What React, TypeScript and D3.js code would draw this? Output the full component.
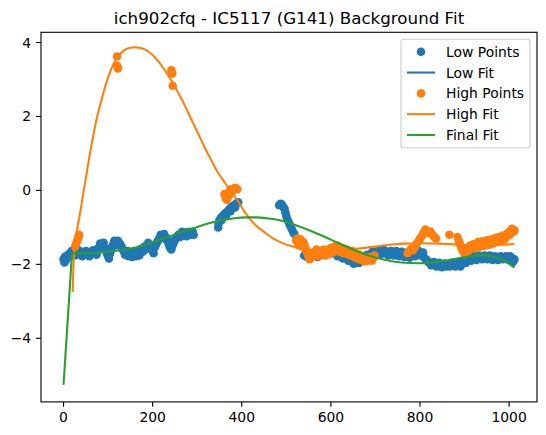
import React from 'react';
import * as d3 from 'd3';

const W = 546;
const H = 435;
const box = { left: 41, right: 537, top: 32.3, bottom: 401.9 };

const xTicks = [0, 200, 400, 600, 800, 1000];
const yTicks = [-4, -2, 0, 2, 4];
const title = 'ich902cfq - IC5117 (G141) Background Fit';

// low points
const lowPoints: [number, number][] = [
  [0, -1.86], [3, -1.8], [6, -1.88], [9, -1.76], [12, -1.72], [16, -1.7], [20, -1.74], [24, -1.68],
  [28, -1.72], [32, -1.66], [36, -1.7], [40, -1.73], [44, -1.69], [48, -1.72], [52, -1.66], [56, -1.7],
  [60, -1.74], [64, -1.68], [68, -1.66], [72, -1.7], [76, -1.62], [80, -1.55], [84, -1.5], [88, -1.48],
  [92, -1.55], [96, -1.66], [100, -1.78], [104, -1.72], [108, -1.55], [112, -1.46], [116, -1.42], [120, -1.44],
  [124, -1.4], [128, -1.48], [132, -1.58], [136, -1.66], [140, -1.7], [144, -1.64], [148, -1.72], [152, -1.76],
  [156, -1.7], [160, -1.74], [164, -1.68], [168, -1.72], [172, -1.65], [176, -1.6], [180, -1.62], [184, -1.55],
  [188, -1.47], [192, -1.5], [196, -1.58], [200, -1.64], [204, -1.55], [208, -1.45], [212, -1.36], [216, -1.3],
  [220, -1.24], [224, -1.22], [228, -1.26], [232, -1.3], [236, -1.44], [240, -1.56], [244, -1.5], [248, -1.38],
  [252, -1.3], [256, -1.25], [260, -1.22], [264, -1.18], [268, -1.15], [272, -1.2], [276, -1.24], [280, -1.18],
  [284, -1.14], [288, -1.17], [292, -1.2],
  [2, -1.95], [5, -1.78], [14, -1.78], [18, -1.64], [26, -1.76], [34, -1.62], [42, -1.78], [50, -1.64],
  [58, -1.78], [66, -1.62], [74, -1.74], [78, -1.56], [82, -1.44], [86, -1.56], [90, -1.42], [98, -1.72],
  [102, -1.84], [106, -1.64], [110, -1.5], [114, -1.36], [118, -1.48], [122, -1.36], [126, -1.44], [130, -1.52],
  [134, -1.62], [138, -1.74], [142, -1.66], [146, -1.78], [150, -1.68], [154, -1.8], [158, -1.64], [162, -1.78],
  [166, -1.64], [170, -1.76], [174, -1.58], [178, -1.66], [182, -1.52], [186, -1.58], [190, -1.42], [194, -1.56],
  [198, -1.52], [202, -1.7], [206, -1.5], [210, -1.4], [214, -1.32], [218, -1.2], [222, -1.28], [226, -1.18],
  [230, -1.32], [234, -1.36], [238, -1.52], [242, -1.6], [246, -1.44], [250, -1.34], [254, -1.26], [258, -1.2],
  [262, -1.26], [266, -1.12], [270, -1.22], [274, -1.14], [278, -1.22], [282, -1.12], [286, -1.2], [290, -1.12],
  [347, -1.0], [348, -0.9], [350, -0.8], [353, -0.74], [357, -0.7], [361, -0.64], [365, -0.6], [369, -0.55],
  [373, -0.5], [377, -0.45], [381, -0.42], [385, -0.38], [389, -0.34], [392, -0.32], [355, -0.8], [365, -0.68],
  [375, -0.56], [385, -0.46],
  [484, -0.4], [487, -0.36], [490, -0.38], [493, -0.44], [496, -0.5], [498, -0.6], [500, -0.7], [503, -0.8],
  [506, -0.88], [509, -0.96], [512, -1.04], [515, -1.12], [518, -1.18],
  [540, -1.76], [546, -1.8], [552, -1.72], [558, -1.78], [564, -1.74], [570, -1.8], [576, -1.76], [582, -1.7],
  [588, -1.74], [594, -1.66], [600, -1.62], [606, -1.68], [612, -1.72], [618, -1.76], [624, -1.8], [630, -1.74],
  [636, -1.82], [642, -1.86], [648, -1.92], [654, -1.96], [660, -1.92], [666, -1.88], [672, -1.84], [678, -1.8],
  [684, -1.76], [690, -1.72], [696, -1.7], [702, -1.66], [708, -1.7], [714, -1.64], [720, -1.68], [726, -1.72],
  [732, -1.7], [738, -1.66], [744, -1.72], [750, -1.7], [756, -1.74], [762, -1.7], [768, -1.76], [774, -1.72],
  [780, -1.78], [786, -1.74], [792, -1.7], [798, -1.66], [804, -1.72], [810, -1.82], [816, -1.9], [822, -1.96],
  [828, -1.98], [834, -2.02], [840, -1.98], [846, -2.04], [852, -2.0], [858, -2.06], [864, -2.0], [870, -1.96],
  [876, -2.02], [882, -1.98], [888, -2.02], [894, -1.96], [900, -1.92], [906, -1.88], [912, -1.84], [918, -1.86],
  [924, -1.8], [930, -1.84], [936, -1.8], [942, -1.82], [948, -1.78], [954, -1.84], [960, -1.8], [966, -1.84],
  [972, -1.82], [978, -1.86], [984, -1.82], [990, -1.8], [996, -1.84], [1002, -1.78], [1006, -1.84], [1010, -1.9],
  [1012, -1.86],
  [603, -1.7], [609, -1.62], [615, -1.78], [621, -1.72], [627, -1.84], [633, -1.78], [639, -1.9], [645, -1.84],
  [651, -1.98], [657, -1.88], [663, -1.96], [669, -1.82], [675, -1.9], [681, -1.74], [687, -1.8], [693, -1.66],
  [699, -1.74], [705, -1.62], [711, -1.74], [717, -1.6], [723, -1.64], [729, -1.76], [735, -1.64], [741, -1.76],
  [747, -1.64], [753, -1.78], [759, -1.66], [765, -1.8], [771, -1.68], [777, -1.82], [783, -1.7], [789, -1.78],
  [795, -1.62], [801, -1.76], [807, -1.68], [813, -1.86], [819, -1.94], [825, -2.02], [831, -1.94], [837, -2.06],
  [843, -1.96], [849, -2.08], [855, -1.98], [861, -2.04], [867, -2.06], [873, -1.98], [879, -2.06], [885, -1.96],
  [891, -2.06], [897, -1.9], [903, -1.96], [909, -1.82], [915, -1.9], [921, -1.78], [927, -1.88], [933, -1.76],
  [939, -1.86], [945, -1.76], [951, -1.86], [957, -1.76], [963, -1.88], [969, -1.78], [975, -1.88], [981, -1.78],
  [987, -1.86], [993, -1.78], [999, -1.88], [1004, -1.8], [1008, -1.94],
];

const highPoints: [number, number][] = [
  [26, -1.52], [28, -1.45], [30, -1.38], [32, -1.32], [34, -1.25], [35, -1.2],
  [120, 3.62], [121, 3.36], [122, 3.3],
  [242, 3.25], [244, 3.16], [245, 2.83],
  [361, -0.1], [364, -0.22], [367, -0.26], [371, -0.14], [374, 0.02], [378, -0.04], [382, 0.05], [386, 0.07], [390, 0.03],
  [522, -1.36], [526, -1.42], [530, -1.38], [534, -1.46], [538, -1.4], [542, -1.54], [546, -1.66], [550, -1.78],
  [554, -1.84], [558, -1.76], [562, -1.7], [566, -1.64], [570, -1.7], [574, -1.74], [578, -1.66], [582, -1.62],
  [586, -1.68], [590, -1.72], [594, -1.64], [598, -1.58], [602, -1.62], [606, -1.56], [610, -1.6], [614, -1.54],
  [618, -1.58], [622, -1.64], [626, -1.6], [630, -1.66], [634, -1.62], [638, -1.7], [642, -1.66], [646, -1.72],
  [650, -1.68], [654, -1.76], [658, -1.72], [662, -1.8], [666, -1.76], [670, -1.84], [674, -1.88], [678, -1.86],
  [682, -1.9], [686, -1.84], [690, -1.86], [694, -1.8], [698, -1.76],
  [524, -1.3], [528, -1.48], [532, -1.32], [536, -1.52], [540, -1.46], [544, -1.6], [548, -1.72], [552, -1.86],
  [556, -1.8], [560, -1.68], [564, -1.76], [568, -1.6], [572, -1.78], [576, -1.7], [580, -1.74], [584, -1.6],
  [588, -1.76], [592, -1.66], [596, -1.72], [600, -1.56], [604, -1.68], [608, -1.52], [612, -1.64], [616, -1.5],
  [620, -1.66], [624, -1.56], [628, -1.7], [632, -1.58], [636, -1.72], [640, -1.62], [644, -1.76], [648, -1.64],
  [652, -1.8], [656, -1.7], [660, -1.84], [664, -1.74], [668, -1.88], [672, -1.8], [676, -1.92], [680, -1.82],
  [684, -1.86], [688, -1.8], [692, -1.9], [696, -1.82],
  [772, -1.7], [776, -1.64], [780, -1.58], [784, -1.62], [788, -1.54], [792, -1.46], [796, -1.38], [800, -1.3],
  [804, -1.24], [808, -1.14], [812, -1.06], [816, -1.1], [820, -1.16], [824, -1.12], [828, -1.2], [832, -1.26],
  [836, -1.3],
  [866, -1.2],
  [884, -1.26], [887, -1.36], [890, -1.46], [893, -1.56], [896, -1.64], [900, -1.72], [904, -1.66], [908, -1.58],
  [912, -1.5], [916, -1.54], [920, -1.46], [924, -1.52], [928, -1.44], [932, -1.5], [936, -1.42], [940, -1.48],
  [944, -1.4], [948, -1.46], [952, -1.38], [956, -1.44], [960, -1.36], [964, -1.4], [968, -1.32], [972, -1.38],
  [976, -1.3], [980, -1.34], [984, -1.26], [988, -1.3], [992, -1.22], [996, -1.18], [1000, -1.14], [1004, -1.1],
  [1008, -1.06], [1012, -1.08],
  [910, -1.62], [914, -1.56], [918, -1.48], [922, -1.56], [926, -1.48], [930, -1.4], [934, -1.52], [938, -1.38],
  [942, -1.5], [946, -1.36], [950, -1.48], [954, -1.34], [958, -1.46], [962, -1.32], [966, -1.42], [970, -1.28],
  [974, -1.36], [978, -1.26], [982, -1.36], [986, -1.22], [990, -1.32], [994, -1.26], [998, -1.14], [1002, -1.2],
  [1006, -1.04], [1010, -1.12],
];

const highFit: [number, number][] = [
  [20.5, -2.75], [22, -2.1], [24, -1.62], [27, -1.3], [30, -1.08], [34, -0.82], [38, -0.55], [42, -0.25], [46, 0.05],
  [50, 0.33], [55, 0.7], [60, 1.05], [67, 1.5], [74, 1.92], [82, 2.3], [90, 2.66], [97, 2.95], [105, 3.22],
  [112, 3.41], [120, 3.58], [127, 3.69], [135, 3.78], [142, 3.83], [150, 3.86], [160, 3.87], [170, 3.86],
  [179, 3.83], [188, 3.77], [198, 3.68], [207, 3.57], [216, 3.44], [225, 3.29], [235, 3.11], [243, 2.95],
  [250, 2.8], [261, 2.56], [272, 2.3], [283, 2.02], [294, 1.74], [305, 1.46], [316, 1.18], [328, 0.9],
  [343, 0.55], [357, 0.3], [367, 0.12], [380, -0.1], [392, -0.3], [403, -0.52], [415, -0.72], [432, -0.95],
  [450, -1.12], [470, -1.3], [490, -1.42], [515, -1.52], [540, -1.58], [570, -1.62], [600, -1.62], [630, -1.6],
  [663, -1.57], [700, -1.52], [731, -1.47], [765, -1.44], [804, -1.43], [840, -1.44], [880, -1.46], [920, -1.48],
  [960, -1.48], [1000, -1.46], [1012, -1.45],
];

// first two points are the steep edge, the rest the smooth part
const finalFit: [number, number][] = [
  [0, -5.26], [19, -1.7], [40, -1.7], [82, -1.68], [120, -1.63], [157, -1.56], [190, -1.44],
  [231, -1.27], [260, -1.15], [290, -1.03], [320, -0.91], [350, -0.82], [380, -0.76], [410, -0.73], [432, -0.73],
  [460, -0.76], [490, -0.82], [523, -0.95], [562, -1.13], [600, -1.33], [640, -1.55], [680, -1.74], [718, -1.87],
  [758, -1.95], [797, -1.97], [836, -1.94], [875, -1.86], [910, -1.78], [940, -1.75], [969, -1.8], [992, -1.92],
  [1012, -2.09],
];

const legendItems = [
  { label: 'Low Points', kind: 'dot', color: '#1f77b4' },
  { label: 'Low Fit', kind: 'line', color: '#1f77b4' },
  { label: 'High Points', kind: 'dot', color: '#ff7f0e' },
  { label: 'High Fit', kind: 'line', color: '#ff7f0e' },
  { label: 'Final Fit', kind: 'line', color: '#2ca02c' },
];

const font = 'DejaVu Sans, sans-serif';

const App: React.FC = () => {
  const x = d3.scaleLinear().domain([-50.6, 1062.6]).range([box.left, box.right]);
  const y = d3.scaleLinear().domain([-5.72, 4.276]).range([box.bottom, box.top]);

  const smooth = d3.line<[number, number]>()
    .x(d => x(d[0]))
    .y(d => y(d[1]))
    .curve(d3.curveMonotoneX);
  const straight = d3.line<[number, number]>()
    .x(d => x(d[0]))
    .y(d => y(d[1]));

  const r = 4.3;
  const lx = 401, ly = 39.2, lw = 129, lh = 108.5;

  return (
    <svg width={W} height={H} style={{ position: 'absolute', left: 0, top: 0 }} fontFamily={font}>
      <rect width={W} height={H} fill="#fff" />
      <text x={(box.left + box.right) / 2} y={23.5} textAnchor="middle" fontSize={16.7}>{title}</text>

      <g>
        {lowPoints.map((d, i) => (
          <circle key={'l' + i} cx={x(d[0])} cy={y(d[1])} r={r} fill="#1f77b4" />
        ))}
        {highPoints.map((d, i) => (
          <circle key={'h' + i} cx={x(d[0])} cy={y(d[1])} r={r} fill="#ff7f0e" />
        ))}
        <path d={smooth(highFit) || ''} fill="none" stroke="#ff7f0e" strokeWidth={2.08} />
        <path d={(straight(finalFit.slice(0, 2)) || '') + (smooth(finalFit.slice(1)) || '')}
          fill="none" stroke="#2ca02c" strokeWidth={2.08} strokeLinejoin="round" />
      </g>

      <rect x={box.left} y={box.top} width={box.right - box.left} height={box.bottom - box.top}
        fill="none" stroke="#000" strokeWidth={1.1} />

      {xTicks.map(t => (
        <g key={'x' + t}>
          <line x1={x(t)} x2={x(t)} y1={box.bottom} y2={box.bottom + 4.9} stroke="#000" strokeWidth={1.1} />
          <text x={x(t)} y={box.bottom + 20.5} textAnchor="middle" fontSize={13.9}>{t}</text>
        </g>
      ))}
      {yTicks.map(t => (
        <g key={'y' + t}>
          <line x1={box.left - 4.9} x2={box.left} y1={y(t)} y2={y(t)} stroke="#000" strokeWidth={1.1} />
          <text x={box.left - 9.8} y={y(t) + 5} textAnchor="end" fontSize={13.9}>
            {t < 0 ? '\u2212' + Math.abs(t) : String(t)}
          </text>
        </g>
      ))}

      <g>
        <rect x={lx} y={ly} width={lw} height={lh} rx={2.8} fill="#fff" fillOpacity={0.8}
          stroke="#cccccc" strokeWidth={1.1} />
        {legendItems.map((it, i) => {
          const cy = ly + 12.55 + i * 20.8;
          return (
            <g key={it.label}>
              {it.kind === 'dot'
                ? <circle cx={421} cy={cy} r={r} fill={it.color} />
                : <line x1={407} x2={435} y1={cy} y2={cy} stroke={it.color} strokeWidth={2.08} />}
              <text x={446} y={cy + 5} fontSize={13.9}>{it.label}</text>
            </g>
          );
        })}
      </g>
    </svg>
  );
};

export default App;
